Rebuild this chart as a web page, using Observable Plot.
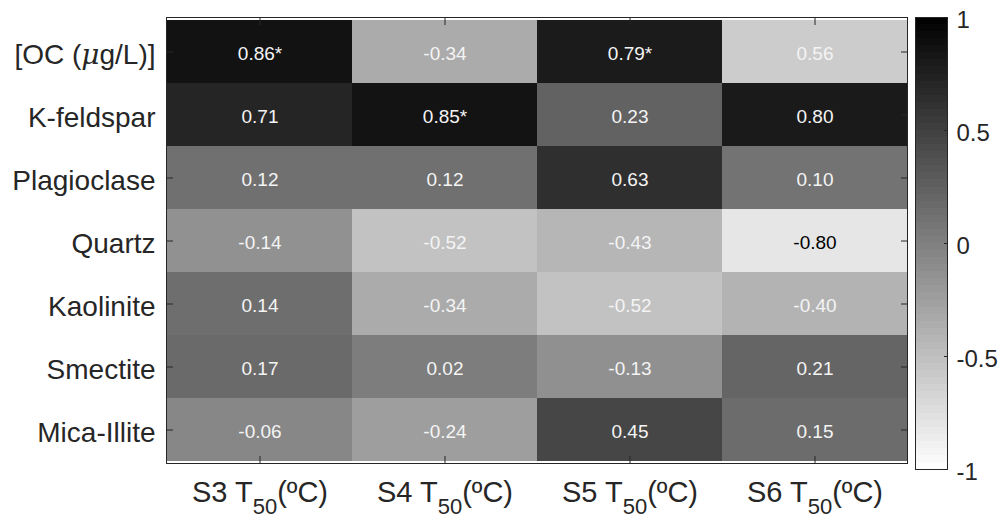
<!DOCTYPE html>
<html><head><meta charset="utf-8">
<script src="https://cdn.jsdelivr.net/npm/d3@7"></script>
<script src="https://cdn.jsdelivr.net/npm/@observablehq/plot@0.6"></script>
<style>
body{margin:0;background:#fff;}
#chart{display:flex;width:1005px;height:519px;background:#fff;}
#chart svg{display:block;flex:none;overflow:visible;}
</style></head><body><div id="chart"></div>
<script>
const rows = ["[OC (μg/L)]", "K-feldspar", "Plagioclase", "Quartz", "Kaolinite", "Smectite", "Mica-Illite"];
const columns = ["S3", "S4", "S5", "S6"];
const xLabelMiddle = " T";
const xLabelSubscript = "50";
const xLabelSuffix = "(ºC)";
const cellLabels = [
  ["0.86*", "-0.34", "0.79*", "0.56"],
  ["0.71", "0.85*", "0.23", "0.80"],
  ["0.12", "0.12", "0.63", "0.10"],
  ["-0.14", "-0.52", "-0.43", "-0.80"],
  ["0.14", "-0.34", "-0.52", "-0.40"],
  ["0.17", "0.02", "-0.13", "0.21"],
  ["-0.06", "-0.24", "0.45", "0.15"]
];
// shade of each cell (the 0.56 cell is drawn light)
const cellShades = [
  [0.86, -0.34, 0.79, -0.60],
  [0.71, 0.85, 0.23, 0.80],
  [0.12, 0.12, 0.63, 0.10],
  [-0.14, -0.52, -0.43, -0.80],
  [0.14, -0.34, -0.52, -0.40],
  [0.17, 0.02, -0.13, 0.21],
  [-0.06, -0.24, 0.45, 0.15]
];
const colorbarTicks = [-1, -0.5, 0, 0.5, 1];
const colorLevels = 64;

const axisColor = "#262626";
const font = "'Liberation Sans', Arial, Helvetica, sans-serif";

const cells = rows.flatMap((r, i) => columns.map((c, j) => ({
  row: r, col: c, label: cellLabels[i][j], shade: cellShades[i][j],
  dark: parseFloat(cellLabels[i][j]) < -0.6
})));

const colorOpts = {type: "linear", domain: [-1, 1], range: ["#ffffff", "#000000"]};

const main = Plot.plot({
  width: 912, height: 519,
  marginLeft: 166, marginRight: 5, marginTop: 17, marginBottom: 56,
  style: {fontFamily: font, background: "white", color: axisColor, overflow: "visible"},
  x: {type: "band", domain: columns, padding: 0, axis: null},
  y: {type: "band", domain: rows, padding: 0, axis: null},
  color: colorOpts,
  marks: [
    Plot.cell(cells, {x: "col", y: "row", fill: "shade", inset: 0, shapeRendering: "crispEdges"}),
    Plot.text(cells, {x: "col", y: "row", text: "label", filter: d => !d.dark, fill: "#f4f4f4", fontSize: 19, dy: 2}),
    Plot.text(cells, {x: "col", y: "row", text: "label", filter: d => d.dark, fill: "#000000", fontSize: 19, dy: 2}),
    Plot.axisY({anchor: "left", tickSize: 0, tickPadding: 11, fontSize: 28, dy: 3, label: null, fill: axisColor}),
    Plot.axisY({anchor: "left", tickSize: 7, insetLeft: 7, tickFormat: () => "", label: null, stroke: axisColor}),
    Plot.axisY({anchor: "right", tickSize: 7, insetRight: 7, tickFormat: () => "", label: null, stroke: axisColor}),
    Plot.axisX({anchor: "bottom", tickSize: 0, tickPadding: 18, fontSize: 29, label: null, fill: axisColor}),
    Plot.axisX({anchor: "bottom", tickSize: 7, insetBottom: 7, tickFormat: () => "", label: null, stroke: axisColor}),
    Plot.axisX({anchor: "top", tickSize: 7, insetTop: 7, tickFormat: () => "", label: null, stroke: axisColor}),
    Plot.frame({stroke: axisColor, strokeWidth: 1})
  ]
});

const bands = d3.range(colorLevels).map(i => ({
  y1: -1 + i * 2 / colorLevels,
  y2: -1 + (i + 1) * 2 / colorLevels,
  v: -1 + (i + 0.5) * 2 / colorLevels
}));

const bar = Plot.plot({
  width: 93, height: 519,
  marginLeft: 3, marginRight: 58, marginTop: 17, marginBottom: 50,
  style: {fontFamily: font, background: "white", color: axisColor},
  y: {domain: [-1, 1], axis: null},
  color: colorOpts,
  marks: [
    Plot.rect(bands, {y1: "y1", y2: "y2", fill: "v", shapeRendering: "crispEdges"}),
    Plot.axisY(colorbarTicks, {anchor: "right", tickSize: 0, tickPadding: 9, fontSize: 24, dy: 2.5, tickFormat: d => String(d), label: null, fill: axisColor}),
    Plot.axisY(colorbarTicks, {anchor: "right", tickSize: 4, insetRight: 4, tickFormat: () => "", label: null, stroke: axisColor}),
    Plot.frame({stroke: axisColor, strokeWidth: 1})
  ]
});

const chart = document.getElementById("chart");
chart.appendChild(main);
chart.appendChild(bar);

// x tick labels with subscript "50"
const NS = "http://www.w3.org/2000/svg";
main.querySelectorAll('g[aria-label="x-axis tick label"] text').forEach(t => {
  const name = t.textContent;
  if (!name) return;
  t.textContent = "";
  const a = document.createElementNS(NS, "tspan");
  a.textContent = name + xLabelMiddle;
  const b = document.createElementNS(NS, "tspan");
  b.textContent = xLabelSubscript;
  b.setAttribute("dy", "12");
  b.setAttribute("font-size", "22");
  const c = document.createElementNS(NS, "tspan");
  c.textContent = xLabelSuffix;
  c.setAttribute("dy", "-12");
  t.append(a, b, c);
});
// italic mu in the first row label
main.querySelectorAll('g[aria-label="y-axis tick label"] text').forEach(t => {
  const s = t.textContent;
  if (!s || s.indexOf("μ") < 0) return;
  const [pre, post] = s.split("μ");
  t.textContent = "";
  const a = document.createElementNS(NS, "tspan"); a.textContent = pre;
  const m = document.createElementNS(NS, "tspan"); m.textContent = "μ"; m.setAttribute("font-style", "italic"); m.setAttribute("font-family", "'DejaVu Serif', serif");
  const c = document.createElementNS(NS, "tspan"); c.textContent = post;
  t.append(a, m, c);
});
</script>
</body></html>
